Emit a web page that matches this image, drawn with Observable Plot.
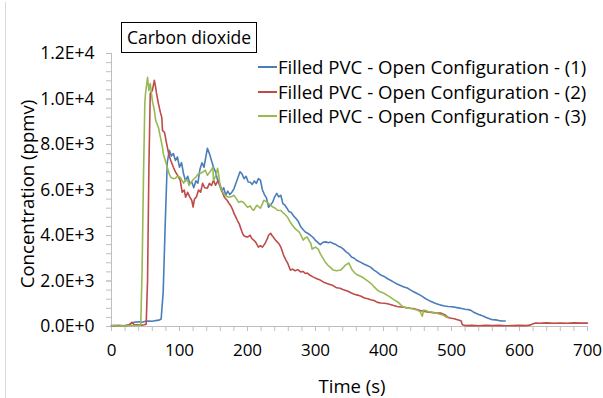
<!DOCTYPE html>
<html>
<head>
<meta charset="utf-8">
<script src="https://cdn.jsdelivr.net/npm/d3@7"></script>
<script src="https://cdn.jsdelivr.net/npm/@observablehq/plot@0.6"></script>
<style>
  html, body { margin: 0; padding: 0; background: #fff; }
  #wrap { position: relative; width: 603px; height: 398px; overflow: hidden; font-family: "Open Sans", sans-serif; color: #000; }
  #wrap svg { position: absolute; left: 0; top: 0; }
  .frame { position: absolute; left: 5px; top: 2px; width: 1px; height: 396px; background: #d9d9d9; }
  .title { position: absolute; left: 121px; top: 22px; width: 134px; height: 29px; border: 1.3px solid #000; font-size: 17.5px; line-height: 29px; text-align: center; white-space: nowrap; }
  .legend { position: absolute; left: 258px; top: 55px; font-size: 18.6px; }
  .legend .row { height: 24.5px; line-height: 24.5px; white-space: nowrap; display: flex; align-items: center; }
  .legend .sw { display: inline-block; width: 19px; height: 2px; margin-right: 1px; }
  .ytitle { position: absolute; left: 26px; top: 194px; transform: translate(-50%, -50%) rotate(-90deg); font-size: 18.6px; white-space: nowrap; }
  .xtitle { position: absolute; left: 352px; top: 385px; transform: translate(-50%, -50%); font-size: 18.5px; white-space: nowrap; }
</style>
</head>
<body>
<div id="wrap"></div>
<script>
// ---- data ----
const seriesNames = [
  "Filled PVC - Open Configuration - (1)",
  "Filled PVC - Open Configuration - (2)",
  "Filled PVC - Open Configuration - (3)"
];
const seriesColors = ["#4a7ebb", "#be4b48", "#98b954"];

const t1 = [0,5,10,15,20,25,30,35,40,45,50,55,60,65,70,73,76,79,82,85,88,91,94,97,100,103,106,109,112,115,118,121,124,127,130,133,136,139,141,144,147,150,153,156,159,162,165,168,171,174,177,180,183,186,189,192,195,198,201,204,207,210,213,216,219,222,225,228,231,234,237,240,243,246,249,252,255,258,261,264,268,271,275,278,282,285,289,293,297,300,303,307,311,315,319,322,326,330,334,337,341,345,349,353,357,361,366,371,376,381,386,391,396,401,406,411,415,420,425,430,435,440,445,450,454,458,462,466,470,475,480,484,490,495,500,505,510,515,520,525,528,532,536,540,543,547,551,555,560,565,570,575,579];
const v1 = [30,50,20,40,30,60,150,200,210,190,230,240,230,260,280,330,1500,4500,7200,7750,7500,7600,7300,7450,7000,7200,6700,6400,6600,6300,6350,6100,6400,6300,6900,7200,7000,7500,7830,7600,7300,7000,6800,6430,6200,5950,6100,5770,5950,5800,5900,6050,6300,6550,6800,6700,6500,6600,6350,6340,6250,6400,6290,6500,6430,6000,5800,5640,5240,5350,5460,5700,5850,5700,5770,5400,5330,5200,5050,5020,4850,4760,4600,4400,4250,4150,4090,4000,3900,3780,3710,3600,3700,3720,3680,3710,3650,3600,3520,3490,3400,3280,3200,3050,3000,2900,2830,2750,2680,2610,2480,2380,2260,2200,2100,2020,1950,1870,1800,1740,1690,1600,1520,1440,1380,1300,1220,1160,1100,1030,980,940,900,880,870,850,820,790,760,740,720,640,580,530,500,450,400,350,300,290,260,240,240];

const t2 = [0,5,10,15,20,25,28,30,33,36,40,44,48,51,53,55,57,60,63,65,66,69,72,74,75,78,81,84,87,91,94,97,101,104,107,109,112,115,118,120,122,125,128,131,134,137,141,144,147,150,153,157,160,163,166,170,173,175,178,180,183,185,188,190,192,194,197,200,204,206,209,212,214,216,219,222,226,229,231,234,236,238,241,244,247,249,253,256,259,263,266,270,274,278,282,285,288,292,297,302,307,312,316,321,326,331,336,341,347,352,357,362,367,372,377,381,386,391,396,401,406,411,415,420,425,430,435,440,444,449,454,460,465,470,476,484,490,494,498,504,510,514,516,520,530,540,550,560,570,580,590,600,610,615,620,624,630,640,650,660,670,680,690,700];
const v2 = [40,20,50,30,40,60,120,180,90,70,80,60,80,100,2000,7000,10250,10370,10820,10500,10290,9800,9400,9190,8620,8530,8050,7610,7310,7000,6800,6650,6430,5900,6000,5680,5900,5700,5550,5250,5600,5700,6000,5900,6290,6100,6080,6290,6200,6430,6210,6430,6200,5900,5680,5550,5400,5330,5150,4980,4800,4670,4500,4320,4150,4010,3950,3930,4010,3880,3800,3710,3600,3490,3550,3490,3660,3850,4010,4100,4000,3930,3800,3710,3600,3490,3140,2950,2790,2480,2520,2450,2500,2400,2420,2330,2350,2250,2170,2100,2040,1950,1900,1850,1800,1700,1680,1620,1560,1480,1420,1380,1330,1250,1220,1180,1140,1060,1030,1020,1000,960,920,880,860,850,820,800,790,750,700,660,640,620,600,590,520,420,370,340,290,250,80,40,50,30,50,40,50,30,40,50,40,60,120,150,140,160,140,150,140,160,150,150];

const t3 = [0,5,10,15,20,25,30,35,40,43,45,47,49,50,53,55,57,60,63,65,69,72,75,76,79,82,85,87,91,94,97,101,104,106,109,112,114,116,120,124,128,131,134,138,141,143,146,149,150,153,156,157,160,163,165,168,172,176,180,184,187,191,194,197,200,204,207,209,212,214,217,219,222,224,227,229,232,234,238,241,244,249,253,256,259,263,266,268,271,273,276,278,282,285,288,291,293,295,297,300,304,307,310,314,318,322,326,331,337,341,344,349,352,354,358,362,367,371,376,381,386,391,395,400,405,410,415,421,425,429,434,440,445,450,454,457,459,462,466,470,474,478,483,488,491,495];
const v3 = [20,40,10,30,20,40,30,40,50,60,2500,6500,9800,10240,10950,10370,10680,9940,9500,9060,8750,8310,7870,7610,7310,7000,6700,6560,6500,6520,6600,6560,6400,6300,6450,6430,6200,6300,6450,6560,6730,6730,6780,6870,6650,6730,6850,7000,6430,6600,6950,6800,6120,5950,5850,5750,5680,5700,5770,5600,5460,5500,5460,5350,5240,5300,5150,5110,5250,5330,5250,5200,5400,5550,5500,5460,5380,5330,5240,5200,5110,5100,4980,4900,4800,4580,4450,4370,4280,4230,4150,4050,3800,3900,3930,3750,3660,3400,3440,3490,3400,3200,3050,2850,2700,2600,2480,2450,2480,2600,2700,2790,2600,2480,2350,2260,2200,2130,2020,1910,1750,1600,1530,1470,1380,1290,1180,1080,960,860,820,790,760,720,650,450,720,700,660,640,600,580,540,500,430,380];

const xTicks = [0,100,200,300,400,500,600,700];
const xMinor = d3.range(0, 701, 20);
const yTicks = [0,2000,4000,6000,8000,10000,12000];
const yMinor = d3.range(0, 12001, 400);

// ---- build table ----
const tables = [[t1, v1], [t2, v2], [t3, v3]].map(([t, v], i) =>
  t.map((tt, j) => ({time: tt, value: v[j], series: seriesNames[i]})));

const fmt = v => v.toExponential(1).replace("e", "E");
const axisColor = "#bfbfbf";

const chart = Plot.plot({
  width: 603,
  height: 398,
  marginLeft: 111,
  marginRight: 16,
  marginTop: 53,
  marginBottom: 72,
  style: {fontFamily: "'Open Sans', sans-serif", fontSize: "16px", color: "#000", background: "transparent", overflow: "visible"},
  x: {domain: [0, 700], label: null},
  y: {domain: [0, 12000], label: null},
  marks: [
    Plot.axisY({ticks: yMinor, tickSize: 5, tickFormat: () => "", stroke: axisColor, label: null}),
    Plot.axisY({ticks: yTicks, tickSize: 5, tickPadding: 12, tickFormat: fmt, stroke: axisColor, fill: "#000", fontSize: 17.5, label: null}),
    Plot.axisX({ticks: xMinor, tickSize: 5, tickFormat: () => "", stroke: axisColor, label: null}),
    Plot.axisX({ticks: xTicks, tickSize: 5, tickPadding: 12, stroke: axisColor, fill: "#000", fontSize: 17, label: null}),
    Plot.ruleY([0], {stroke: axisColor, strokeWidth: 1}),
    Plot.ruleX([0], {stroke: axisColor, strokeWidth: 1}),
    ...tables.map((tb, i) => Plot.line(tb, {x: "time", y: "value", stroke: seriesColors[i], strokeWidth: 1.6}))
  ]
});

const wrap = document.getElementById("wrap");
wrap.innerHTML = `<div class="frame"></div>`;
wrap.appendChild(chart);

const title = document.createElement("div");
title.className = "title";
title.textContent = "Carbon dioxide";
wrap.appendChild(title);

const legend = document.createElement("div");
legend.className = "legend";
seriesNames.forEach((name, i) => {
  const row = document.createElement("div");
  row.className = "row";
  const sw = document.createElement("span");
  sw.className = "sw";
  sw.style.background = seriesColors[i];
  row.appendChild(sw);
  row.appendChild(document.createTextNode(name));
  legend.appendChild(row);
});
wrap.appendChild(legend);

const yt = document.createElement("div");
yt.className = "ytitle";
yt.textContent = "Concentration (ppmv)";
wrap.appendChild(yt);

const xt = document.createElement("div");
xt.className = "xtitle";
xt.textContent = "Time (s)";
wrap.appendChild(xt);
</script>
</body>
</html>
